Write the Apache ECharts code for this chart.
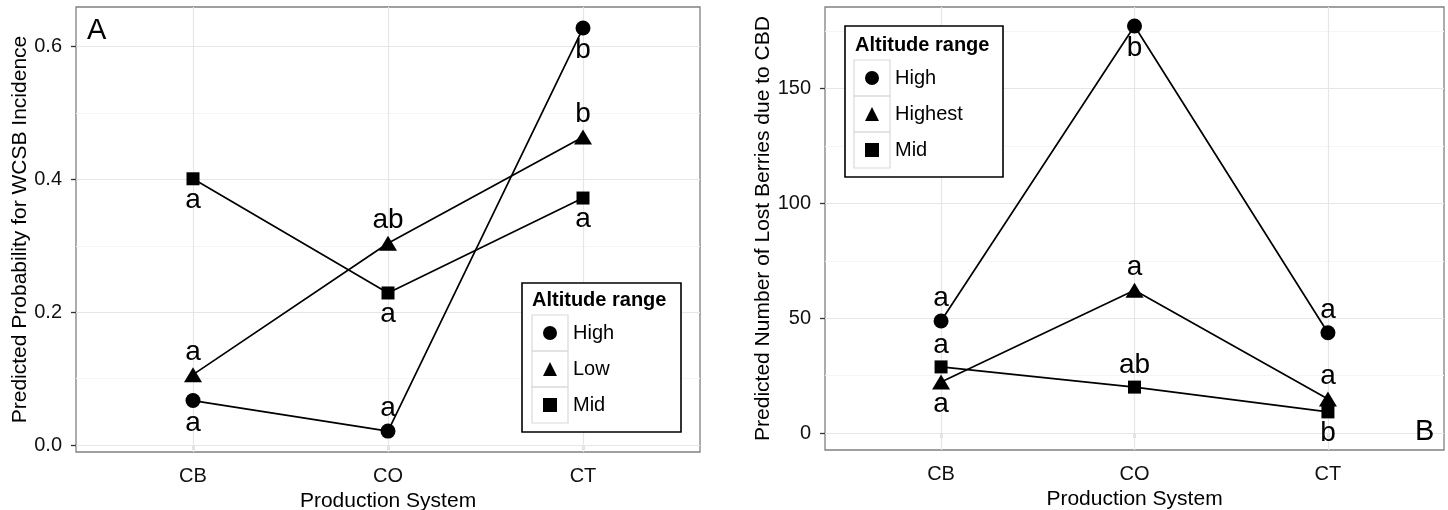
<!DOCTYPE html>
<html><head><meta charset="utf-8">
<script src="https://cdn.jsdelivr.net/npm/echarts@6/dist/echarts.min.js"></script>
<style>html,body{margin:0;padding:0;background:#fff}#c{width:1448px;height:510px}</style>
</head><body><div id="c"></div>
<script>
// ---------- data ----------
const categories = ['CB', 'CO', 'CT'];

const probTicks = [0, 0.2, 0.4, 0.6];
const probMinorTicks = [0.1, 0.3, 0.5];
const berryTicks = [0, 50, 100, 150];
const berryMinorTicks = [25, 75, 125, 175];

// Panel A: predicted probability for WCSB incidence
const probHigh = [0.067, 0.021, 0.628];
const probLow  = [0.106, 0.304, 0.464];
const probMid  = [0.401, 0.229, 0.372];
const probHighLetters = ['a', 'a', 'b'];
const probLowLetters  = ['a', 'ab', 'b'];
const probMidLetters  = ['a', 'a', 'a'];
const probHighPos = ['bottom', 'top', 'bottom'];
const probLowPos  = ['top', 'top', 'top'];
const probMidPos  = ['bottom', 'bottom', 'bottom'];

// Panel B: predicted number of lost berries due to CBD
const berHigh    = [48.8, 177.3, 43.7];
const berHighest = [22.2, 62.2, 14.8];
const berMid     = [28.8, 20.0, 9.2];
const berHighLetters    = ['a', 'b', 'a'];
const berHighestLetters = ['a', 'a', 'a'];
const berMidLetters     = ['a', 'ab', 'b'];
const berHighPos    = ['top', 'bottom', 'top'];
const berHighestPos = ['bottom', 'top', 'top'];
const berMidPos     = ['top', 'top', 'bottom'];

// ---------- chart ----------
const font = "'Liberation Sans', Arial, sans-serif";
const chart = echarts.init(document.getElementById('c'), null, {renderer: 'canvas'});

function mkSeries(name, vals, letters, pos, symbol, size, gi) {
  return {
    type: 'line', name: name, xAxisIndex: gi, yAxisIndex: gi,
    data: vals.map((v, i) => ({
      value: [i + 1, v],
      label: {show: true, formatter: letters[i], position: pos[i], distance: pos[i] === 'top' ? 1 : 1}
    })),
    symbol: symbol, symbolSize: size, showSymbol: true, showAllSymbol: true,
    itemStyle: {color: '#000'},
    lineStyle: {color: '#000', width: 1.7},
    label: {fontSize: 28, color: '#000', fontFamily: font},
    emphasis: {disabled: true},
    z: 3, animation: false
  };
}

function gridSeries(gi, major, minor) {
  const ml = [];
  minor.forEach(v => ml.push({yAxis: v, lineStyle: {color: '#f5f5f5', width: 1, type: 'solid'}}));
  major.forEach(v => ml.push({yAxis: v, lineStyle: {color: '#e6e6e6', width: 1.2, type: 'solid'}}));
  categories.forEach((c, i) => ml.push({xAxis: i + 1, lineStyle: {color: '#e6e6e6', width: 1.2, type: 'solid'}}));
  return {
    type: 'line', name: '_grid' + gi, xAxisIndex: gi, yAxisIndex: gi, data: [],
    silent: true, z: 1, animation: false,
    markLine: {silent: true, z: 1, symbol: ['none', 'none'], label: {show: false}, animation: false, data: ml}
  };
}

function xAx(gi) {
  return {
    type: 'value', gridIndex: gi, min: 0.4, max: 3.6,
    name: 'Production System', nameLocation: 'middle', nameGap: 37,
    nameTextStyle: {fontSize: 21, color: '#000', fontFamily: font},
    axisLine: {show: false}, splitLine: {show: false},
    axisTick: {show: true, customValues: [1, 2, 3], length: 5, lineStyle: {color: '#333', width: 1.3}},
    axisLabel: {customValues: [1, 2, 3], formatter: v => categories[Math.round(v) - 1],
      fontSize: 20, color: '#111', margin: 14, fontFamily: font}
  };
}

function yAx(gi, min, max, ticks, dec, name, gap) {
  return {
    type: 'value', gridIndex: gi, min: min, max: max,
    name: name, nameLocation: 'middle', nameGap: gap,
    nameTextStyle: {fontSize: 21, color: '#000', fontFamily: font},
    axisLine: {show: false}, splitLine: {show: false},
    axisTick: {show: true, customValues: ticks, length: 5, lineStyle: {color: '#333', width: 1.3}},
    axisLabel: {customValues: ticks, formatter: v => Number(v).toFixed(dec),
      fontSize: 20, color: '#111', margin: 14, fontFamily: font}
  };
}

const cellStyle = {fill: 'none', stroke: '#d9d9d9', lineWidth: 1.2};
function legendBox(x, y, w, h, cellX, cellY0) {
  const els = [{type: 'rect', shape: {x: x, y: y, width: w, height: h}, style: {fill: '#fff', stroke: '#000', lineWidth: 1.6}, z: 5}];
  for (let i = 0; i < 3; i++) {
    els.push({type: 'rect', shape: {x: cellX, y: cellY0 + i * 36, width: 36, height: 36}, style: cellStyle, z: 6});
  }
  return els;
}

const legendText = {fontSize: 20, color: '#000', fontFamily: font, padding: [0, 0, 0, 11]};
const titleFont = "bold 20px 'Liberation Sans', Arial, sans-serif";
const panelFont = "29px 'Liberation Sans', Arial, sans-serif";

const option = {
  backgroundColor: '#fff',
  animation: false,
  grid: [
    {left: 76, top: 7, width: 624, height: 445, show: true, borderColor: '#808080', borderWidth: 1.3,
     backgroundColor: '#fff', outerBoundsMode: 'none', containLabel: false},
    {left: 825, top: 7, width: 619, height: 443, show: true, borderColor: '#808080', borderWidth: 1.3,
     backgroundColor: '#fff', outerBoundsMode: 'none', containLabel: false}
  ],
  xAxis: [xAx(0), xAx(1)],
  yAxis: [
    yAx(0, -0.0105, 0.6597, probTicks, 1, 'Predicted Probability for WCSB Incidence', 45),
    yAx(1, -7.4, 185.6, berryTicks, 0, 'Predicted Number of Lost Berries due to CBD', 48)
  ],
  legend: [
    {
      data: [{name: 'High', icon: 'circle'}, {name: 'Low', icon: 'triangle'}, {name: 'Mid', icon: 'rect'}],
      orient: 'vertical', left: 543, top: 323, itemWidth: 14, itemHeight: 14, itemGap: 16, padding: 0,
      selectedMode: false, z: 10, textStyle: legendText
    },
    {
      data: [{name: 'High', icon: 'circle'}, {name: 'Highest', icon: 'triangle'}, {name: 'Mid', icon: 'rect'}],
      orient: 'vertical', left: 865, top: 68, itemWidth: 14, itemHeight: 14, itemGap: 16, padding: 0,
      selectedMode: false, z: 10, textStyle: legendText
    }
  ],
  graphic: {elements: [].concat(
    legendBox(522, 283, 159, 149, 532, 315),
    legendBox(845, 26, 158, 151, 854, 60),
    [
      {type: 'text', x: 532, y: 300, z: 7, style: {text: 'Altitude range', font: titleFont, fill: '#000', verticalAlign: 'middle'}},
      {type: 'text', x: 855, y: 45, z: 7, style: {text: 'Altitude range', font: titleFont, fill: '#000', verticalAlign: 'middle'}},
      {type: 'text', x: 87, y: 31, z: 7, style: {text: 'A', font: panelFont, fill: '#000', verticalAlign: 'middle'}},
      {type: 'text', x: 1415, y: 432, z: 7, style: {text: 'B', font: panelFont, fill: '#000', verticalAlign: 'middle'}}
    ]
  )},
  series: [
    gridSeries(0, probTicks, probMinorTicks),
    gridSeries(1, berryTicks, berryMinorTicks),
    mkSeries('High', probHigh, probHighLetters, probHighPos, 'circle', 15, 0),
    mkSeries('Low', probLow, probLowLetters, probLowPos, 'triangle', [18, 15], 0),
    mkSeries('Mid', probMid, probMidLetters, probMidPos, 'rect', 13, 0),
    mkSeries('High', berHigh, berHighLetters, berHighPos, 'circle', 15, 1),
    mkSeries('Highest', berHighest, berHighestLetters, berHighestPos, 'triangle', [18, 15], 1),
    mkSeries('Mid', berMid, berMidLetters, berMidPos, 'rect', 13, 1)
  ]
};
chart.setOption(option);
</script>
</body></html>
